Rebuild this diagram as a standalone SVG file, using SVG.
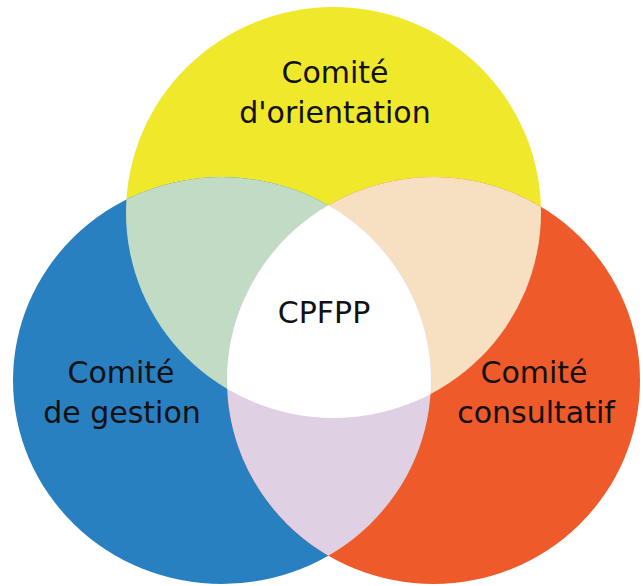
<svg xmlns="http://www.w3.org/2000/svg" width="643" height="586" viewBox="0 0 643 586">
  <defs>
    <clipPath id="cY"><ellipse cx="333.5" cy="212.5" rx="207.5" ry="205.5"/></clipPath>
    <clipPath id="cB"><ellipse cx="222" cy="380.5" rx="209" ry="203.5"/></clipPath>
    <clipPath id="cO"><ellipse cx="433.5" cy="380.5" rx="206.5" ry="203.5"/></clipPath>
    <style>
      .lbl { font-family: "DejaVu Sans", "Liberation Sans", sans-serif; font-size: 30px; fill: #111; text-anchor: middle; }
    </style>
  </defs>
  <rect width="643" height="586" fill="#ffffff"/>
  <g id="orientation">
    <ellipse cx="333.5" cy="212.5" rx="207.5" ry="205.5" fill="#F0E82A"/>
  </g>
  <g id="gestion">
    <ellipse cx="222" cy="380.5" rx="209" ry="203.5" fill="#2880C0"/>
  </g>
  <g id="consultatif">
    <ellipse cx="433.5" cy="380.5" rx="206.5" ry="203.5" fill="#EE5A29"/>
  </g>
  <g id="orientation-gestion">
    <ellipse cx="222" cy="380.5" rx="209" ry="203.5" fill="#C2DBC4" clip-path="url(#cY)"/>
  </g>
  <g id="orientation-consultatif">
    <ellipse cx="433.5" cy="380.5" rx="206.5" ry="203.5" fill="#F7DFC2" clip-path="url(#cY)"/>
  </g>
  <g id="gestion-consultatif">
    <ellipse cx="433.5" cy="380.5" rx="206.5" ry="203.5" fill="#DFD0E3" clip-path="url(#cB)"/>
  </g>
  <g id="cpfpp">
    <g clip-path="url(#cO)">
      <ellipse cx="333.5" cy="212.5" rx="207.5" ry="205.5" fill="#ffffff" clip-path="url(#cB)"/>
    </g>
    <text class="lbl" x="324" y="323">CPFPP</text>
  </g>
  <g id="labels">
    <text class="lbl" x="335" y="83">Comité</text>
    <text class="lbl" x="335" y="123">d'orientation</text>
    <text class="lbl" x="121" y="383">Comité</text>
    <text class="lbl" x="122" y="423">de gestion</text>
    <text class="lbl" x="534" y="383">Comité</text>
    <text class="lbl" x="536" y="423">consultatif</text>
  </g>
</svg>
